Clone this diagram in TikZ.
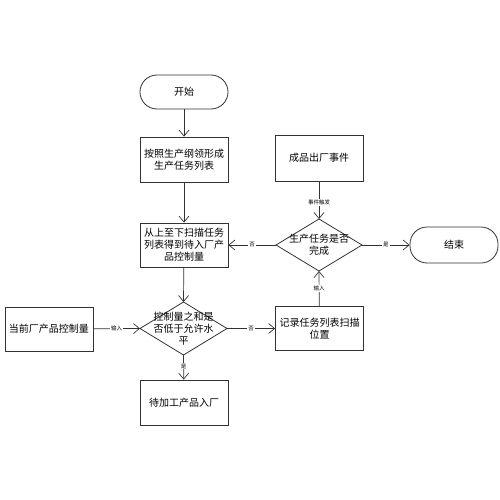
\documentclass[tikz,border=0pt]{standalone}
\usepackage{fontspec}
\setmainfont{Noto Sans CJK SC}
\usetikzlibrary{arrows.meta,shapes.geometric}
\begin{document}
\begin{tikzpicture}[x=1pt,y=-1pt,
  base/.style={draw=black!80,line width=0.8pt,align=center,font=\fontsize{10}{12}\selectfont,inner sep=1pt},
  procbox/.style={base,rectangle,minimum width=88pt,minimum height=44pt},
  term/.style={base,rectangle,rounded corners=17pt,minimum width=88pt,minimum height=34pt},
  dtext/.style={align=center,font=\fontsize{10}{12}\selectfont,inner sep=0pt},
  arr/.style={draw=black!80,line width=0.7pt,-{Straight Barb[length=6pt,width=10pt]}},
  lab/.style={fill=white,font=\fontsize{5.5}{6}\selectfont,inner sep=1pt}]
\useasboundingbox (0,0) rectangle (500,500);
\node[term] (start) at (184,92) {开始};
\node[procbox,minimum height=45pt] (plan) at (184,159.5) {按照生产纲领形成\\生产任务列表};
\node[procbox,minimum height=46pt] (event) at (319,158) {成品出厂事件};
\node[procbox] (scan) at (184,245) {从上至下扫描任务\\列表得到待入厂产\\品控制量};
\node[term,minimum height=36pt] (stop) at (454,245) {结束};
\node[procbox] (cur) at (49,329) {当前厂产品控制量};
\node[procbox] (rec) at (319.5,328.5) {记录任务列表扫描\\位置};
\node[procbox,minimum height=45pt] (wait) at (184,402.5) {待加工产品入厂};
% decision diamonds drawn from named corner coordinates
\coordinate (dT) at (319,219); \coordinate (dB) at (319,271);
\coordinate (dL) at (276,245); \coordinate (dR) at (362,245);
\draw[draw=black!80,line width=0.8pt] (dT) -- (dR) -- (dB) -- (dL) -- cycle;
\node[dtext] (done) at (319,245) {生产任务是否\\完成};
\coordinate (eT) at (183.5,302); \coordinate (eB) at (183.5,355);
\coordinate (eL) at (140,328.5); \coordinate (eR) at (227,328.5);
\draw[draw=black!80,line width=0.8pt] (eT) -- (eR) -- (eB) -- (eL) -- cycle;
\node[dtext] (check) at (183.5,328.5) {控制量之和是\\否低于允许水\\平};
% connectors
\draw[arr] (start) -- (plan);
\draw[arr] (plan) -- (scan);
\draw[arr] (scan) -- (eT);
\draw[arr] (eB) -- node[lab,pos=0.45]{是} (wait);
\draw[arr] (cur) -- node[lab,pos=0.5]{输入} (eL);
\draw[arr] (eR) -- node[lab,pos=0.5]{否} (rec);
\draw[arr] (rec) -- node[lab,pos=0.5]{输入} (dB);
\draw[arr] (dL) -- node[lab,pos=0.5]{否} (scan);
\draw[arr] (dR) -- node[lab,pos=0.5]{是} (stop);
\draw[arr] (event) -- node[lab,pos=0.55]{事件触发} (dT);
\end{tikzpicture}
\end{document}
